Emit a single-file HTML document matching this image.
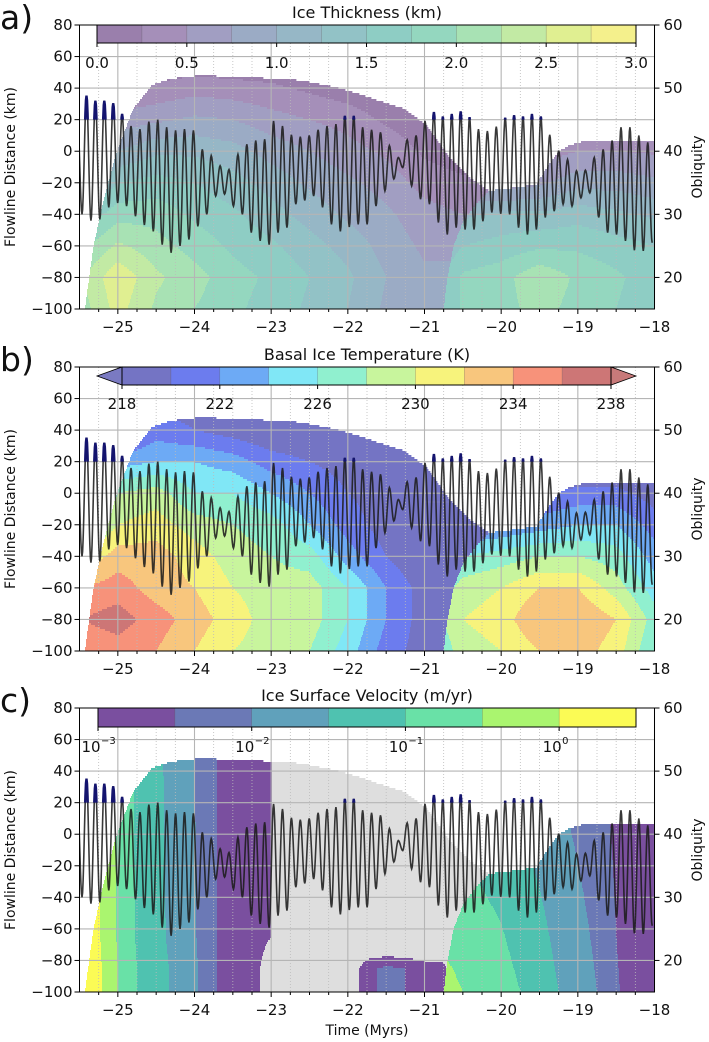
<!DOCTYPE html>
<html><head><meta charset="utf-8">
<style>
html,body{margin:0;padding:0;background:#fff;}
svg{display:block;font-family:"DejaVu Sans","Liberation Sans",sans-serif;}
</style></head>
<body>
<svg id="fig" xmlns="http://www.w3.org/2000/svg" width="709" height="1042" viewBox="0 0 709 1042"></svg>
<script>
// ---------- data ----------
const gridTimes = [-25.5,-25,-24.5,-24,-23.5,-23,-22.5,-22,-21.5,-21,-20.5,-20,-19.5,-19,-18.5,-18];
const gridKm = [80,60,40,20,0,-20,-40,-60,-80,-100];
const thickness = [
 [0,0,0,0,0,0,0,0,0,0,0,0,0,0,0,0],
 [0,0,0,0,0,0,0,0,0,0,0,0,0,0,0,0],
 [0,0.2,0.3,0.4,0.35,0.3,0.2,0.1,0,0,0,0,0,0,0,0],
 [0.3,0.6,0.7,0.8,0.75,0.6,0.5,0.4,0.2,0.05,0,0,0,0,0,0],
 [0.6,1.0,1.2,1.2,1.1,0.9,0.75,0.6,0.45,0.2,0.1,0.1,0.1,0.1,0.1,0.1],
 [1.0,1.5,1.6,1.5,1.35,1.15,0.95,0.8,0.65,0.4,0.3,0.3,0.3,0.3,0.3,0.3],
 [1.5,1.9,1.9,1.7,1.55,1.35,1.15,0.95,0.8,0.6,0.5,0.5,0.5,0.5,0.5,0.5],
 [1.9,2.3,2.1,1.9,1.7,1.55,1.35,1.15,0.9,0.7,0.7,0.7,0.7,0.7,0.7,0.7],
 [2.2,2.7,2.3,2.1,1.85,1.7,1.5,1.3,1.0,0.8,0.8,0.8,0.8,0.8,0.8,0.8],
 [2.1,2.6,2.2,2.0,1.8,1.65,1.45,1.25,0.95,0.8,0.8,0.8,0.8,0.8,0.8,0.8]
];
const basalTemp = [
 [218,218,218,218,218,218,218,218,218,218,218,218,218,218,218,218],
 [218,218,219,219,218,218,218,218,218,218,218,218,218,218,218,218],
 [218,218,221,220,219,218,218,218,218,218,218,218,218,218,218,218],
 [218,223,224,224,223,221,220,219,218,218,218,218,218,218,218,218],
 [222,228,229,226,226,224,222,220,219,218,218,218,218,218,218,218],
 [226,230,231,229,228,227,224,221,219,218,218,218,218,218,218,218],
 [230,233,233,231,229,228,227,223,220,218,218,218,218,218,218,218],
 [234,235,233,232,230,229,229,226,222,219,219,219,219,219,219,219],
 [236,237,235,233,231,229,229,226,222,219,219,219,219,219,219,219],
 [234,235,234,232,230,229,228,225,221,219,219,219,219,219,219,219]
];
const body2Times = [-20.75,-20.5,-20,-19.5,-19,-18.5,-18];
const body2Km = [10,-20,-40,-60,-80,-100];
const body2Thickness = [
 [0.2,0.2,0.2,0.2,0.3,0.3,0.3],
 [0.5,0.6,0.6,0.7,0.9,0.9,0.8],
 [1.0,1.2,1.3,1.3,1.4,1.3,1.2],
 [1.3,1.5,1.6,1.7,1.7,1.6,1.5],
 [1.5,1.8,1.9,2.2,1.95,1.8,1.6],
 [1.5,1.8,1.9,2.1,1.9,1.75,1.55]
];
const body2Temp = [
 [218,218,218,218,219,219,218],
 [220,221,222,223,224,224,221],
 [224,226,227,228,228,227,223],
 [227,229,230,232,232,229,225],
 [228,230,231,234,234,232,227],
 [227,229,230,232,233,231,226]
];
const velTimes = [-25.5,-25.25,-25,-24.75,-24.5,-24.25,-24,-23.75,-23.5,-23.25,-23,-22.75,-22.5,-22.25,-22,-21.75,-21.5,-21.25,-21,-20.75,-20.5,-20.25,-20,-19.75,-19.5,-19.25,-19,-18.75,-18.5,-18.25,-18];
const velKm = [80,-65,-85,-100];
const logVelocity = [
 [0.3,0.0,-0.6,-1.1,-1.4,-1.7,-2.0,-2.45,-2.7,-2.85,-2.95,-4,-4,-4,-4,-4,-4,-4,-4,-4,-4,-4,-4,-4,-4,-4,-4,-4,-4,-4,-4],
 [0.35,0.05,-0.55,-1.05,-1.35,-1.65,-1.95,-2.45,-2.7,-2.85,-3.0,-4,-4,-4,-4,-4,-4,-4,-4,-4,-4,-4,-4,-4,-4,-4,-4,-4,-4,-4,-4],
 [0.4,0.1,-0.5,-1.0,-1.3,-1.6,-1.9,-2.45,-2.7,-2.85,-3.2,-4,-4,-4,-3.6,-2.6,-2.4,-2.5,-2.7,-2.8,-4,-4,-4,-4,-4,-4,-4,-4,-4,-4,-4],
 [0.4,0.1,-0.5,-1.0,-1.3,-1.6,-1.9,-2.45,-2.7,-2.85,-3.2,-4,-4,-4,-3.6,-2.6,-2.4,-2.5,-2.7,-2.8,-4,-4,-4,-4,-4,-4,-4,-4,-4,-4,-4]
];
const body2VelTimes = [-20.75,-20.5,-20.25,-20,-19.75,-19.5,-19.25,-19,-18.75,-18.5,-18.25,-18];
const body2VelKm = [10,-100];
const body2LogVel = [
 [-1.2,-1.2,-1.2,-1.3,-1.5,-1.7,-1.9,-2.1,-2.3,-2.6,-2.8,-2.8],
 [-0.3,-0.5,-0.7,-0.8,-1.0,-1.2,-1.5,-1.7,-2.0,-2.45,-2.7,-2.8]
];
const envTimes = [-25.43,-25.32,-25.23,-25.04,-24.8,-24.55,-24.3,-23.93,-23.3,-22.63,-22.2,-21.9,-21.6,-21.27,-20.98,-20.7,-20.4,-20.16,-19.8,-19.54,-19.4,-19.25,-19.1,-18.9,-18];
const envTopKm = [-100,-61,-40,-4,27,42,46,48,47,45,41,37,32,27,16.6,-2.4,-17,-25,-23,-21,-10,0,4,6.5,6.5];
const flankKm = [-100,-80,-60,-45,-32,-25,-22];
const flankTimes = [-20.75,-20.7,-20.62,-20.5,-20.3,-20.16,-20.1];
const oblPeaks = [45,48.8,48,48,47.6,45.9,44,43.5,44.7,45,43.8,43.3,43.5,43.3,40.3,39.3,37.7,37.1,39.5,41.1,41.7,41.9,44.8,
 44,42.6,42.3,42.5,43.4,44,44.3,45.6,45.6,43.8,43.4,43,40.9,39,41.8,42.5,44.8,46.2,45.5,45.9,46.3,45.4,
 43.5,43.2,43.9,45.3,45.7,45.5,45.9,45.5,42.6,40.1,38.7,36.9,37,39,40.3,41.7,43.8,43.8,42.5,41.4];
const oblTroughs = [30,29,29.2,31.1,31.8,31.3,29.7,28.3,27.3,25.2,23.9,25,26,28.1,30,32.9,33.2,31.3,30,27.1,25.8,25.2,
 27.1,27.9,31.6,32.2,32.9,31.1,28.4,27.3,28,28.4,28.4,31.3,33.7,35.6,37.4,34.5,32.4,31.6,28.7,26.8,27.9,27.6,
 27.6,28.9,30.3,30.1,30,27.9,26.8,27.6,29.5,30.5,31.6,31.3,32.6,33.4,29.5,27.1,26.8,25.8,24.3,24.2,25.5];
const oblFirstTrough = -25.467;
const oblHalfPeriod = 0.0581;
const xTicks = [-25,-24,-23,-22,-21,-20,-19,-18];
const yTicks = [80,60,40,20,0,-20,-40,-60,-80,-100];
const oblTicks = [20,30,40,50,60];
const thickLevels = [0,0.25,0.5,0.75,1,1.25,1.5,1.75,2,2.25,2.5,2.75,3];
const thickColors = ["#9a7fac","#a58fb9","#a19ec2","#9babc5","#96b7c6","#92c2c6","#8ecdc4","#94d7bf","#a8e2b4","#c2eaa4","#e0ef91","#f4f08c"];
const thickTickVals = [0,0.5,1,1.5,2,2.5,3];
const tempLevels = [218,220,222,224,226,228,230,232,234,236,238];
const tempColors = ["#7474c4","#6c7cee","#6daaf5","#80e7f6","#90f0cf","#c8f59d","#f7f37c","#f8c67d","#f7927a","#cd7676"];
const tempTickVals = [218,222,226,230,234,238];
const velLevels = [-3,-2.5,-2,-1.5,-1,-0.5,0,0.5];
const velColors = ["#7a4f9f","#6b79b6","#60a1bb","#4fc2b0","#69e1a7","#aaf56f","#fbfb55"];
const velTickVals = [-3,-2,-1,0];

// ---------- layout ----------
const NS="http://www.w3.org/2000/svg";
const svg=document.getElementById('fig');
const X0=79.5,X1=654.5,T0=-25.5,T1=-18,H=284;
const tops=[25,367,708];
function xs(t){return X0+(t-T0)*(X1-X0)/(T1-T0);}
function ykm(top,km){return top+(80-km)*H/180;}
function yobl(top,o){return top+(60-o)*H/45;}
function mk(tag,attrs,parent){const e=document.createElementNS(NS,tag);for(const k in attrs)e.setAttribute(k,attrs[k]);(parent||svg).appendChild(e);return e;}
function txt(s,attrs,parent){const e=mk('text',attrs,parent);e.textContent=s;return e;}

function interp1(xa,ya,x){if(x<=xa[0])return ya[0];for(let i=0;i<xa.length-1;i++){if(x<=xa[i+1]){const f=(x-xa[i])/(xa[i+1]-xa[i]);return ya[i]+f*(ya[i+1]-ya[i]);}}return ya[ya.length-1];}
function bilin(ts,ks,g,t,k){
 let i=0;while(i<ts.length-2&&t>ts[i+1])i++;
 let j=0;while(j<ks.length-2&&k<ks[j+1])j++;
 let fx=Math.max(0,Math.min(1,(t-ts[i])/(ts[i+1]-ts[i])));
 let fy=Math.max(0,Math.min(1,(ks[j]-k)/(ks[j]-ks[j+1])));
 const a=g[j][i]*(1-fx)+g[j][i+1]*fx, b=g[j+1][i]*(1-fx)+g[j+1][i+1]*fx;
 return a*(1-fy)+b*fy;}
function inIce(t,k){if(t<envTimes[0])return false;return k<=interp1(envTimes,envTopKm,t);}
function inBody2(t,k){if(k>-22)return t>=-20.1;return t>=interp1(flankKm,flankTimes,k);}
function binColor(v,levels,colors,under,over){
 if(v<levels[0])return under; if(v>=levels[levels.length-1])return over;
 for(let i=0;i<colors.length;i++){if(v<levels[i+1])return colors[i];}return over;}

function drawField(p,name,valFn){
 const top=tops[p];
 const g=mk('g',{});
 
 
 const step=2;
 for(let py=top;py<top+H;py+=step){
  const k=80-(py+step/2-top)*180/H;
  let runStart=null,runCol=null;
  for(let px=Math.floor(X0);px<=Math.ceil(X1);px++){
   const t=T0+(px+0.5-X0)*(T1-T0)/(X1-X0);
   let c=null;
   if(inIce(t,k))c=valFn(t,k);
   if(c!==runCol){
    if(runCol){const r=mk('rect',{x:runStart,y:py,width:px-runStart+0.4,height:step+0.4,fill:runCol},g);
     
     }
    runStart=px;runCol=c;}
  }
  if(runCol){const r=mk('rect',{x:runStart,y:py,width:X1-runStart,height:step+0.4,fill:runCol},g);
   
   }
 }
}

function drawGrid(p){
 const top=tops[p];
 const g=mk('g',{});
 
 
 for(let t=-25.25;t<-18;t+=0.25){ if(Math.abs(t-Math.round(t))<0.01)continue;
  const l=mk('line',{x1:xs(t),x2:xs(t),y1:top,y2:top+H,stroke:'#bbbbbb','stroke-width':0.8,'stroke-dasharray':'1,2'},g);
  
  }
 xTicks.forEach(t=>{const l=mk('line',{x1:xs(t),x2:xs(t),y1:top,y2:top+H,stroke:'#b5b5b5','stroke-width':1.1},g);
  
  });
 yTicks.forEach(k=>{const l=mk('line',{x1:X0,x2:X1,y1:ykm(top,k),y2:ykm(top,k),stroke:'#b5b5b5','stroke-width':1.1},g);
  
  });
}

function oblPath(top){
 const ex=[],et=[];
 ex.push(oblPeaks[0]);et.push(oblFirstTrough-oblHalfPeriod);
 for(let i=0;i<oblTroughs.length;i++){
  ex.push(oblTroughs[i]);et.push(oblFirstTrough+2*i*oblHalfPeriod);
  if(i+1<oblPeaks.length){ex.push(oblPeaks[i+1]);et.push(oblFirstTrough+(2*i+1)*oblHalfPeriod);}
 }
 let d='';
 for(let i=0;i<ex.length-1;i++){
  for(let s=0;s<=8;s++){const f=s/8;const v=ex[i]+(ex[i+1]-ex[i])*(1-Math.cos(Math.PI*f))/2;
   const t=et[i]+(et[i+1]-et[i])*f;
   d+=(d?'L':'M')+xs(t).toFixed(2)+','+yobl(top,v).toFixed(2);}
 }
 return d;
}

function drawObl(p){
 const top=tops[p];
 const cp=mk('clipPath',{id:'clip'+p});
 mk('rect',{x:X0,y:top,width:X1-X0,height:H},cp);
 const cp2=mk('clipPath',{id:'clipn'+p});
 mk('rect',{x:X0,y:top,width:X1-X0,height:yobl(top,45)-top},cp2);
 const d=oblPath(top);
 const pa=mk('path',{d:d,fill:'none',stroke:'#1c1c1c','stroke-width':1.6,'stroke-opacity':0.88,'clip-path':'url(#clip'+p+')'});
 
 
 const pb=mk('path',{d:d,fill:'none',stroke:'#14146e','stroke-width':2.4,'clip-path':'url(#clipn'+p+')'});
 
 
}

function drawAxes(p,title,label){
 const top=tops[p];
 const fr=mk('rect',{x:X0,y:top,width:X1-X0,height:H,fill:'none',stroke:'#000','stroke-width':1});
 
 
 yTicks.forEach(k=>{const y=ykm(top,k);
  const l=mk('line',{x1:X0-5,x2:X0,y1:y,y2:y,stroke:'#000'});
  
  
  const tx=txt(String(k).replace('-','\u2212'),{x:X0-7,y:y+5,'font-size':15,'text-anchor':'end',fill:'#111'});
  
  });
 oblTicks.forEach(o=>{const y=yobl(top,o);
  const l=mk('line',{x1:X1,x2:X1+5,y1:y,y2:y,stroke:'#000'});
  
  
  const tx=txt(String(o),{x:X1+9,y:y+5,'font-size':15,fill:'#111'});
  
  });
 for(let t=-25.25;t<=-18.01;t+=0.25){const maj=Math.abs(t-Math.round(t))<0.01;
  const l=mk('line',{x1:xs(t),x2:xs(t),y1:top+H,y2:top+H+(maj?5:3),stroke:'#000'});
  
  }
 xTicks.forEach(t=>{const tx=txt(String(t).replace('-','\u2212'),{x:xs(t),y:top+H+23,'font-size':15,'text-anchor':'middle',fill:'#111'});
  
  });
 const yl=txt('Flowline Distance (km)',{x:0,y:0,'font-size':14,'text-anchor':'middle',fill:'#111',transform:'translate(15,'+(top+H/2)+') rotate(-90)'});
 
 
 const ol=txt('Obliquity',{x:0,y:0,'font-size':14,'text-anchor':'middle',fill:'#111',transform:'translate(702,'+(top+H/2)+') rotate(-90)'});
 
 
 const ti=txt(title,{x:367,y:top-7,'font-size':16,'text-anchor':'middle',fill:'#111'});
 
 
 const pl=txt(label,{x:0,y:top+4,'font-size':33,fill:'#111'});
 
 
}

function drawColorbar(p,name,x0,x1,levels,colors,vmin,vmax,tickVals,fmt,arrows,ytop,h){
 const g=mk('g',{});
 
 
 const cx=v=>x0+(v-vmin)*(x1-x0)/(vmax-vmin);
 if(arrows){
  const a1=mk('polygon',{points:x0+','+ytop+' '+x0+','+(ytop+h)+' '+(x0-25)+','+(ytop+h/2),fill:'#7a7ac2',stroke:'#000','stroke-width':0.8},g);
  
  
  const a2=mk('polygon',{points:x1+','+ytop+' '+x1+','+(ytop+h)+' '+(x1+25)+','+(ytop+h/2),fill:'#c87a7a',stroke:'#000','stroke-width':0.8},g);
  
  
 }
 for(let i=0;i<colors.length;i++){
  const r=mk('rect',{x:cx(levels[i]),y:ytop,width:cx(levels[i+1])-cx(levels[i])+0.3,height:h,fill:colors[i]},g);
  
  
  if(i>0){const l=mk('line',{x1:cx(levels[i]),x2:cx(levels[i]),y1:ytop,y2:ytop+h,stroke:'#555','stroke-width':0.5,'stroke-opacity':0.5},g);
   
   }
 }
 const fr=mk('rect',{x:x0,y:ytop,width:x1-x0,height:h,fill:'none',stroke:'#000','stroke-width':1},g);
 
 
 tickVals.forEach(v=>{const x=cx(v);
  const l=mk('line',{x1:x,x2:x,y1:ytop+h,y2:ytop+h+4,stroke:'#000'},g);
  
  
  fmt(v,x,g);});
}

// ---------- panels ----------
drawField(0,'ice-thickness-field',(t,k)=>{
 const v=inBody2(t,k)?bilin(body2Times,body2Km,body2Thickness,t,k):bilin(gridTimes,gridKm,thickness,t,k);
 return binColor(v,thickLevels,thickColors,thickColors[0],thickColors[11]);});
drawField(1,'basal-temperature-field',(t,k)=>{
 const v=inBody2(t,k)?bilin(body2Times,body2Km,body2Temp,t,k):bilin(gridTimes,gridKm,basalTemp,t,k);
 return binColor(v,tempLevels,tempColors,'#7a7ac2','#c87a7a');});
drawField(2,'surface-velocity-field',(t,k)=>{
 const v=inBody2(t,k)?bilin(body2VelTimes,body2VelKm,body2LogVel,t,k):bilin(velTimes,velKm,logVelocity,t,k);
 return binColor(v,velLevels,velColors,'#dedede','#fbfb55');});

for(let p=0;p<3;p++){drawGrid(p);drawObl(p);}
drawAxes(0,'Ice Thickness (km)','a)');
drawAxes(1,'Basal Ice Temperature (K)','b)');
drawAxes(2,'Ice Surface Velocity (m/yr)','c)');

drawColorbar(0,'ice-thickness-colorbar',97,636,thickLevels,thickColors,0,3,thickTickVals,(v,x,g)=>{
 const tx=txt(v.toFixed(1),{x:x,y:tops[0]+43,'font-size':15,'text-anchor':'middle',fill:'#111'},g);
 
 },false,25,18);
drawColorbar(1,'basal-temperature-colorbar',122,611,tempLevels,tempColors,218,238,tempTickVals,(v,x,g)=>{
 const tx=txt(String(v),{x:x,y:tops[1]+42,'font-size':15,'text-anchor':'middle',fill:'#111'},g);
 
 },true,367,18);
drawColorbar(2,'surface-velocity-colorbar',98,636,velLevels,velColors,-3,0.5,velTickVals,(v,x,g)=>{
 const tx=txt('10',{x:x-7,y:tops[2]+44,'font-size':15,'text-anchor':'middle',fill:'#111'},g);
 
 
 const sp=txt(String(v).replace('-','\u2212'),{x:x+3,y:tops[2]+36,'font-size':10,fill:'#111'},g);
 
 },false,708,19);

const xl=txt('Time (Myrs)',{x:367,y:1035,'font-size':14,'text-anchor':'middle',fill:'#111'});


</script>
</body></html>
